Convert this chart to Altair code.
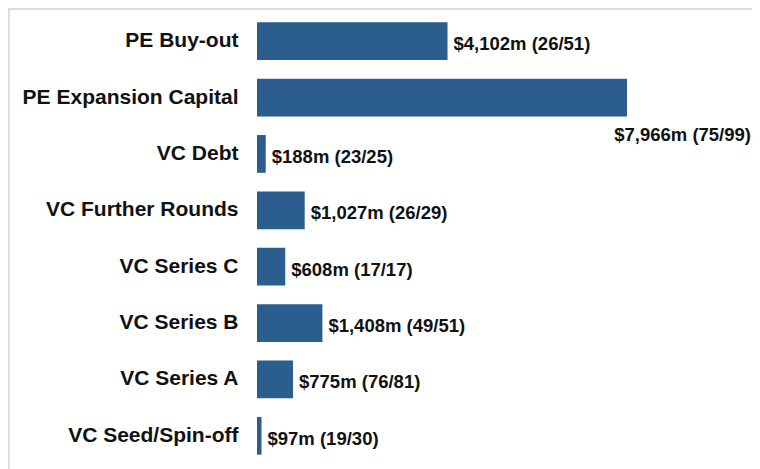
import altair as alt
import pandas as pd

categories = ["PE Buy-out", "PE Expansion Capital", "VC Debt", "VC Further Rounds",
              "VC Series C", "VC Series B", "VC Series A", "VC Seed/Spin-off"]
values = [4102, 7966, 188, 1027, 608, 1408, 775, 97]
labels = ["$4,102m (26/51)", "$7,966m (75/99)", "$188m (23/25)", "$1,027m (26/29)",
          "$608m (17/17)", "$1,408m (49/51)", "$775m (76/81)", "$97m (19/30)"]

df = pd.DataFrame({"category": categories, "value": values, "label": labels})

FONT = "Liberation Sans"
BAR = "#2b5d8e"
TXT = "#111111"

y_enc = alt.Y("category:N", sort=categories,
              scale=alt.Scale(paddingInner=0.33, paddingOuter=0.165),
              axis=alt.Axis(title=None, labelFont=FONT, labelFontSize=21,
                            labelFontWeight="bold", labelColor=TXT, labelPadding=19,
                            ticks=False, domain=False, grid=False, labelLimit=400))
x_enc = alt.X("value:Q", scale=alt.Scale(domain=[0, max(values)], nice=False, zero=True),
              axis=None)

base = alt.Chart(df).encode(y=y_enc, x=x_enc)

bars = base.mark_bar(color=BAR)

text = base.transform_filter(alt.datum.category != "PE Expansion Capital").mark_text(
    align="left", baseline="middle", dx=6, dy=3, font=FONT, fontSize=18.5,
    fontWeight="bold", color=TXT).encode(text="label:N")

text2 = base.transform_filter(alt.datum.category == "PE Expansion Capital").mark_text(
    align="right", baseline="middle", dx=124, dy=37, font=FONT, fontSize=18.5,
    fontWeight="bold", color=TXT).encode(text="label:N")

one = pd.DataFrame({"a": [0]})
top_border = alt.Chart(one).mark_rule(color="#dcdcdc", strokeWidth=2).encode(
    x=alt.value(-249), x2=alt.value(495), y=alt.value(-4))
left_border = alt.Chart(one).mark_rule(color="#dcdcdc", strokeWidth=2).encode(
    x=alt.value(-248), y=alt.value(-5), y2=alt.value(460))

chart = alt.layer(bars, text, text2, top_border, left_border).properties(
    width=370, height=451,
    autosize=alt.AutoSizeParams(type="none"),
    padding={"left": 249, "top": 5, "right": 125, "bottom": 5},
    background="white",
).configure_view(stroke=None)

chart.save("out.html", embed_options={"renderer": "svg", "actions": False})
